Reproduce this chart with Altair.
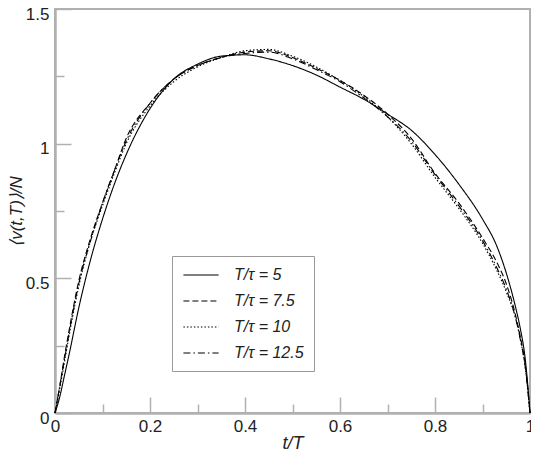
import altair as alt
import pandas as pd

t = [0, 0.01, 0.02, 0.03, 0.05, 0.075, 0.1, 0.125, 0.15, 0.2, 0.25, 0.3, 0.35, 0.4, 0.45,
     0.5, 0.55, 0.6, 0.65, 0.7, 0.75, 0.8, 0.85, 0.9, 0.93, 0.95, 0.97, 0.98, 0.99, 0.995, 1.0]

v5 = [0, 0.06, 0.14, 0.22, 0.39, 0.57, 0.72, 0.85, 0.96, 1.13, 1.24, 1.295, 1.325, 1.33, 1.315,
      1.29, 1.255, 1.21, 1.165, 1.11, 1.05, 0.96, 0.85, 0.72, 0.62, 0.52, 0.39, 0.31, 0.20, 0.11, 0]
v75 = [0, 0.10, 0.21, 0.31, 0.49, 0.65, 0.78, 0.90, 1.02, 1.15, 1.24, 1.29, 1.32, 1.34, 1.345,
       1.32, 1.28, 1.235, 1.18, 1.11, 1.02, 0.89, 0.78, 0.65, 0.56, 0.48, 0.36, 0.28, 0.18, 0.10, 0]
v10 = [0, 0.09, 0.19, 0.29, 0.47, 0.64, 0.77, 0.89, 1.00, 1.14, 1.23, 1.285, 1.32, 1.345, 1.35,
       1.325, 1.285, 1.235, 1.175, 1.10, 1.00, 0.875, 0.76, 0.63, 0.53, 0.45, 0.35, 0.27, 0.17, 0.09, 0]
v125 = [0, 0.10, 0.20, 0.30, 0.48, 0.64, 0.78, 0.90, 1.01, 1.15, 1.24, 1.29, 1.32, 1.335, 1.34,
        1.315, 1.275, 1.23, 1.17, 1.10, 1.01, 0.885, 0.77, 0.64, 0.54, 0.46, 0.35, 0.27, 0.17, 0.09, 0]

series = ["T/τ = 5", "T/τ = 7.5", "T/τ = 10", "T/τ = 12.5"]
values = [v5, v75, v10, v125]
dashes = [[1, 0], [6, 3], [1.5, 2], [7, 3, 1.5, 3]]

x_major = [0, 0.2, 0.4, 0.6, 0.8, 1.0]
x_minor = [0.1, 0.3, 0.5, 0.7, 0.9]
y_major = [0, 0.5, 1.0, 1.5]
y_minor = [0.25, 0.75, 1.25]

rows = []
for name, vals in zip(series, values):
    for ti, vi in zip(t, vals):
        rows.append({"t": ti, "v": vi, "s": name})
df = pd.DataFrame(rows)

GRAY = "#b0b0b0"
FONT = "Liberation Sans"
xs = alt.Scale(domain=[0, 1], nice=False, zero=False)
ys = alt.Scale(domain=[0, 1.5], nice=False, zero=False)

main = alt.Chart(df).mark_line(color="black", strokeWidth=1.1, interpolate="monotone").encode(
    x=alt.X("t:Q", scale=xs, title="t/T",
            axis=alt.Axis(orient="bottom", values=x_major, format="~g", ticks=False, grid=False,
                          domainColor=GRAY, domainWidth=2.5, labelFont=FONT, labelFontSize=17,
                          labelColor="#222", labelPadding=5, labelFlush=False,
                          titleFont=FONT, titleFontSize=18, titleFontStyle="italic",
                          titleFontWeight="normal", titleColor="#222", titlePadding=0)),
    y=alt.Y("v:Q", scale=ys, title="⟨v(t,T)⟩/N",
            axis=alt.Axis(orient="left", values=y_major, format="~g", ticks=False, grid=False,
                          domainColor=GRAY, domainWidth=2.5, labelFont=FONT, labelFontSize=17,
                          labelColor="#222", labelPadding=6, labelFlush=False, labelOffset=5,
                          titleFont=FONT, titleFontSize=17, titleFontStyle="italic",
                          titleFontWeight="normal", titleColor="#222", titlePadding=0)),
    strokeDash=alt.StrokeDash("s:N", title=None,
                              scale=alt.Scale(domain=series, range=dashes),
                              legend=alt.Legend(orient="none", legendX=117, legendY=247,
                                                strokeColor="#999", padding=10,
                                                symbolType="M-2.2,0H2.2", symbolSize=256,
                                                symbolOffset=10,
                                                symbolStrokeWidth=1.1, symbolStrokeColor="black",
                                                labelFont=FONT, labelFontSize=16, labelColor="#222",
                                                labelFontStyle="italic",
                                                rowPadding=9, labelOffset=24)),
)

def tick_layer(xv, yv, size):
    return alt.Chart(df).mark_line(opacity=0).encode(
        x=alt.X("t:Q", scale=xs, axis=alt.Axis(orient="bottom", values=xv, offset=-size,
                                               tickSize=size, tickColor=GRAY, tickWidth=1.5,
                                               domain=False, labels=False, grid=False, title=None)),
        y=alt.Y("v:Q", scale=ys, axis=alt.Axis(orient="left", values=yv, offset=-size,
                                               tickSize=size, tickColor=GRAY, tickWidth=1.5,
                                               domain=False, labels=False, grid=False, title=None)),
    )

chart = alt.layer(main, tick_layer(x_major, y_major, 16), tick_layer(x_minor, y_minor, 9)).resolve_axis(
    x="independent", y="independent"
).properties(
    width=475, height=404,
    padding={"left": 47, "top": 1, "right": 1, "bottom": 42},
    autosize="none",
).configure_view(stroke=GRAY, strokeWidth=2)

chart.save("out.html", embed_options={"renderer": "svg", "actions": False})
